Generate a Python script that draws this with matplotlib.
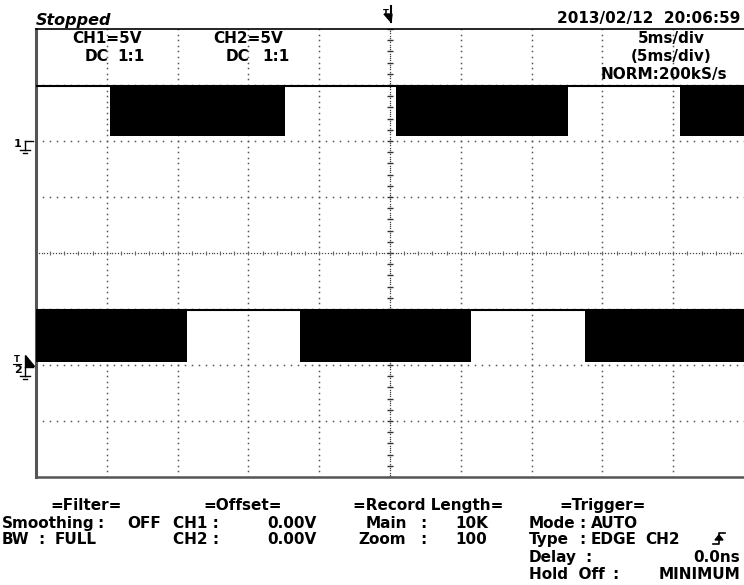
import numpy as np
import matplotlib.pyplot as plt
from matplotlib.patches import Polygon

# scope settings: 5 ms/div (10 div), 5 V/div (8 div); y values in divisions
t_min, t_max = -25.0, 25.0

ch1_ground = 2.0
ch1_high = 2.98
ch1_low = 2.09
ch1_burst_start = [-19.77, 0.42, 20.48]
ch1_burst_end = [-7.42, 12.57, 25.0]

ch2_ground = -2.0
ch2_high = -1.02
ch2_low = -1.95
ch2_burst_start = [-25.0, -6.36, 13.77]
ch2_burst_end = [-14.34, 5.72, 25.0]

W, H = 744, 585
fig = plt.figure(figsize=(W / 100, H / 100), dpi=100)
fig.patch.set_facecolor('white')

# screen area (pixels 36..744 x 29..477)
ax = fig.add_axes([36 / W, 1 - 477 / H, 708 / W, 448 / H])
ax.set_xlim(t_min, t_max)
ax.set_ylim(-4, 4)
ax.set_xticks([])
ax.set_yticks([])
ax.spines['left'].set_color('#555555')
ax.spines['left'].set_linewidth(2.2)
ax.spines['bottom'].set_color('#555555')
ax.spines['bottom'].set_linewidth(1.8)
ax.spines['top'].set_color('black')
ax.spines['top'].set_linewidth(1.2)
ax.spines['right'].set_visible(False)

# dotted graticule
dot = dict(ls='none', marker='s', ms=1.1, mew=0, color='#555555', zorder=1)
yy = np.arange(-4, 4.001, 0.1)
for gx in np.arange(-20, 21, 5):
    if gx == 0:
        continue
    ax.plot(np.full_like(yy, gx), yy, **dot)
xx = np.arange(-25, 25.001, 0.5)
for gy in range(-3, 4):
    if gy == 0:
        continue
    ax.plot(xx, np.full_like(xx, gy), **dot)

# centre lines with minor ticks
ax.plot(np.zeros(201), np.linspace(-4, 4, 201), ls='none', marker='s', ms=0.9,
        mew=0, color='#444444', zorder=1)
ym = np.arange(-4, 4.001, 0.2)
ax.plot(np.zeros_like(ym), ym, ls='none', marker='_', ms=4.5, mew=1.0, color='#333333', zorder=1)
ax.plot(np.linspace(-25, 25, 251), np.zeros(251), ls='none', marker='s', ms=0.9,
        mew=0, color='#444444', zorder=1)
xm = np.arange(-25, 25.001, 1.0)
ax.plot(xm, np.zeros_like(xm), ls='none', marker='|', ms=2.5, mew=0.8, color='#666666', zorder=1)

# traces
for s, e in zip(ch1_burst_start, ch1_burst_end):
    ax.fill_between([s, e], [ch1_low, ch1_low], [ch1_high, ch1_high], color='black', lw=0, zorder=3)
ax.plot([t_min, t_max], [ch1_high, ch1_high], color='black', lw=1.5, zorder=3)
for s, e in zip(ch2_burst_start, ch2_burst_end):
    ax.fill_between([s, e], [ch2_low, ch2_low], [ch2_high, ch2_high], color='black', lw=0, zorder=3)
ax.plot([t_min, t_max], [ch2_high, ch2_high], color='black', lw=1.5, zorder=3)

# overlay in pixel coordinates for the text and markers
ov = fig.add_axes([0, 0, 1, 1], zorder=5)
ov.set_xlim(0, W)
ov.set_ylim(H, 0)
ov.axis('off')
ov.patch.set_alpha(0)

txt = dict(fontfamily='DejaVu Sans', fontweight='bold', fontsize=11, color='black', va='baseline')

ov.text(36, 25, 'Stopped', style='italic', **{**txt, 'fontsize': 11.5})
ov.text(740, 23, '2013/02/12  20:06:59', ha='right', **txt)

ov.text(72, 43, 'CH1=5V', **txt)
ov.text(85, 61, 'DC', **txt)
ov.text(117, 61, '1:1', **txt)
ov.text(213, 43, 'CH2=5V', **txt)
ov.text(226, 61, 'DC', **txt)
ov.text(262, 61, '1:1', **txt)
ov.text(671, 43, '5ms/div', ha='center', **txt)
ov.text(671, 61, '(5ms/div)', ha='center', **txt)
ov.text(664, 79, 'NORM:200kS/s', ha='center', **txt)

# trigger position marker at the top
ov.text(383, 16, 'T', **{**txt, 'fontsize': 6})
ov.plot([391, 391], [6, 22], color='black', lw=1.5)
ov.add_patch(Polygon([[384, 14], [392, 14], [391, 22]], closed=True, color='black'))


def ground(x0, y0):
    ov.plot([x0, x0 + 8], [y0, y0], color='black', lw=1)
    ov.plot([x0, x0], [y0, y0 + 9], color='black', lw=1)
    ov.plot([x0 - 5, x0 + 5], [y0 + 9, y0 + 9], color='black', lw=1)
    ov.plot([x0 - 2, x0 + 2], [y0 + 12, y0 + 12], color='black', lw=1)


ov.text(14, 147, '1', **{**txt, 'fontsize': 8})
ground(25, 141)
ov.text(14, 362, 'T', **{**txt, 'fontsize': 6})
ov.plot([13, 21], [364, 364], color='black', lw=0.8)
ov.add_patch(Polygon([[25, 355], [25, 366], [34, 366]], closed=True, color='black'))
ov.text(14, 373, '2', **{**txt, 'fontsize': 8})
ground(25, 367)

# settings panel below the screen
r0, r1, r2, r3, r4 = 510, 528, 544, 562, 579
ov.text(50, r0, '=Filter=', **txt)
ov.text(2, r1, 'Smoothing', **txt)
ov.text(97, r1, ':', **txt)
ov.text(127, r1, 'OFF', **txt)
ov.text(2, r2, 'BW', **txt)
ov.text(38, r2, ':', **txt)
ov.text(55, r2, 'FULL', **txt)

ov.text(203, r0, '=Offset=', **txt)
ov.text(173, r1, 'CH1 :', **txt)
ov.text(317, r1, '0.00V', ha='right', **txt)
ov.text(173, r2, 'CH2 :', **txt)
ov.text(317, r2, '0.00V', ha='right', **txt)

ov.text(353, r0, '=Record Length=', **txt)
ov.text(366, r1, 'Main', **txt)
ov.text(420, r1, ':', **txt)
ov.text(455, r1, '10K', **txt)
ov.text(358, r2, 'Zoom', **txt)
ov.text(420, r2, ':', **txt)
ov.text(455, r2, '100', **txt)

ov.text(559, r0, '=Trigger=', **txt)
ov.text(529, r1, 'Mode', **txt)
ov.text(579, r1, ':', **txt)
ov.text(591, r1, 'AUTO', **txt)
ov.text(529, r2, 'Type', **txt)
ov.text(579, r2, ':', **txt)
ov.text(591, r2, 'EDGE', **txt)
ov.text(645, r2, 'CH2', **txt)
# rising-edge symbol
ov.plot([713, 719, 719, 725], [544, 544, 533, 533], color='black', lw=1.2)
ov.add_patch(Polygon([[715, 540], [723, 540], [719, 535]], closed=True, color='black'))
ov.text(529, r3, 'Delay', **txt)
ov.text(585, r3, ':', **txt)
ov.text(740, r3, '0.0ns', ha='right', **txt)
ov.text(529, r4, 'Hold  Off', **txt)
ov.text(612, r4, ':', **txt)
ov.text(740, r4, 'MINIMUM', ha='right', **txt)

fig.savefig('out.png', dpi=100, facecolor='white')
